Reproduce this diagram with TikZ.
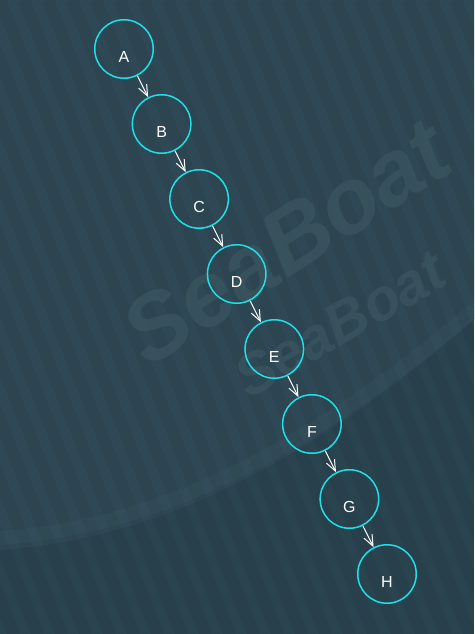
\documentclass[tikz,border=0pt]{standalone}
\usepackage{fontspec}
\setmainfont{Liberation Sans}
\usetikzlibrary{arrows.meta}
\definecolor{bgbase}{HTML}{29434F}
\definecolor{bglight}{HTML}{2E4955}
\definecolor{bandlight}{HTML}{36525E}
\definecolor{wmark}{HTML}{3B5661}
\definecolor{ringcol}{HTML}{1FE0E6}
\tikzset{
  ringnode/.style={circle, draw=ringcol, line width=1.5pt, minimum size=58.5pt, inner sep=0pt},
  lbltext/.style={text=white, font=\fontsize{16}{16}\selectfont, inner sep=0pt},
  linkarrow/.style={draw=white, line width=1pt, -{Straight Barb[length=11pt,width=9pt,line width=1pt]}},
  wmtext/.style={inner sep=0pt, text=wmark, opacity=0.75}
}
\begin{document}
\begin{tikzpicture}[x=1pt,y=1pt]
\useasboundingbox (0,0) rectangle (474,-634);
% background
\fill[bgbase] (0,0) rectangle (474,-634);
\fill[bglight] (0,0) -- (474,0) -- (474,-320) .. controls (300,-470) and (150,-540) .. (0,-550) -- cycle;
\begin{scope}
\clip (0,0) rectangle (474,-634);
\draw[bandlight, line width=14pt, opacity=0.5] (474,-310) .. controls (300,-458) and (150,-528) .. (0,-538);
\foreach \i in {-20,...,24} {
  \draw[black, line width=12pt, opacity=0.045] (\i*24,0) -- ++(260,-650);
}
% watermark text (background image)
\node[wmtext, rotate=33, font=\fontsize{92}{92}\selectfont\bfseries\itshape] (wm1) at (286,-242) {SeaBoat};
\node[wmtext, rotate=30, font=\fontsize{58}{58}\selectfont\bfseries\itshape] (wm2) at (340,-324) {SeaBoat};
\end{scope}
% nodes
\node[ringnode, label={[lbltext, yshift=-8pt]center:A}] (A) at (124,-49) {};
\node[ringnode, label={[lbltext, yshift=-8pt]center:B}] (B) at (161.6,-124) {};
\node[ringnode, label={[lbltext, yshift=-8pt]center:C}] (C) at (199.1,-199) {};
\node[ringnode, label={[lbltext, yshift=-8pt]center:D}] (D) at (236.7,-274) {};
\node[ringnode, label={[lbltext, yshift=-8pt]center:E}] (E) at (274.3,-349) {};
\node[ringnode, label={[lbltext, yshift=-8pt]center:F}] (F) at (311.9,-424) {};
\node[ringnode, label={[lbltext, yshift=-8pt]center:G}] (G) at (349.4,-499) {};
\node[ringnode, label={[lbltext, yshift=-8pt]center:H}] (H) at (387,-574) {};
% connectors
\draw[linkarrow] (A) -- (B);
\draw[linkarrow] (B) -- (C);
\draw[linkarrow] (C) -- (D);
\draw[linkarrow] (D) -- (E);
\draw[linkarrow] (E) -- (F);
\draw[linkarrow] (F) -- (G);
\draw[linkarrow] (G) -- (H);
\end{tikzpicture}
\end{document}
